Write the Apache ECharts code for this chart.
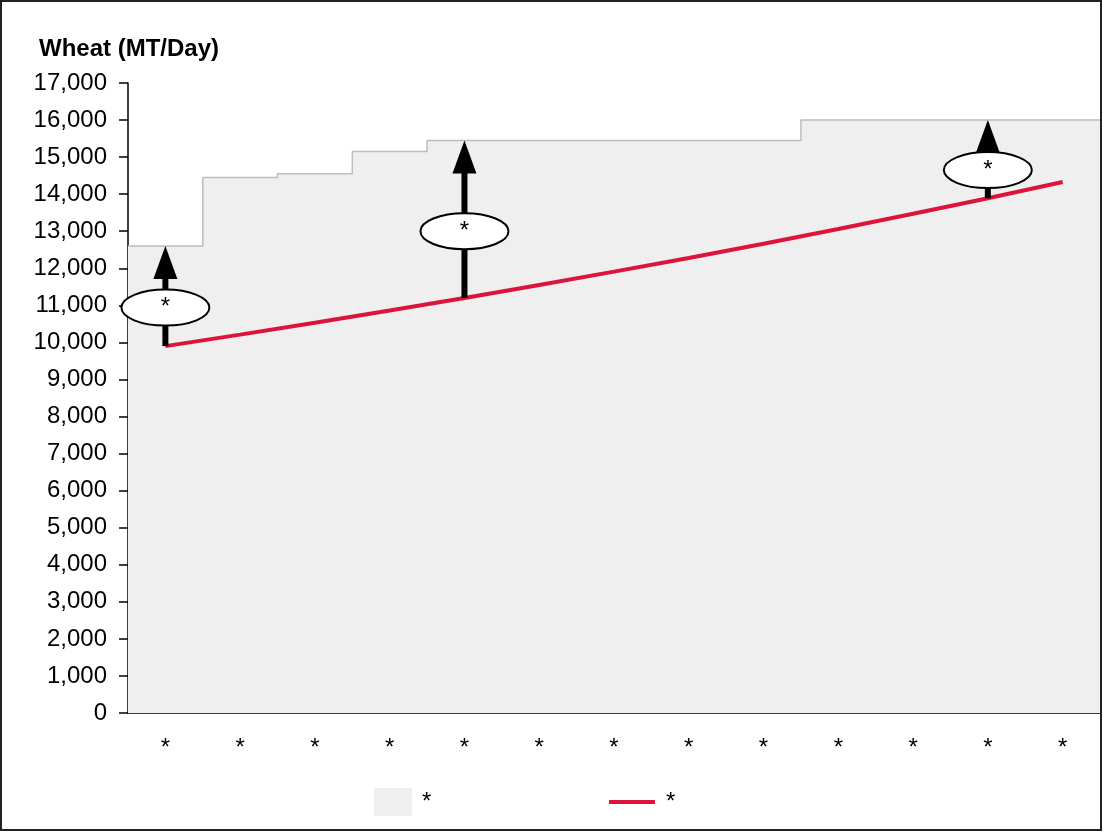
<!DOCTYPE html>
<html lang="en">
  <head>
    <meta charset="UTF-8" />
    <title>Wheat (MT/Day)</title>
    <script src="https://cdn.jsdelivr.net/npm/echarts@6/dist/echarts.min.js"></script>
    <style>
      html, body { margin: 0; padding: 0; background: #fff; }
      #main { width: 1103px; height: 832px; }
    </style>
  </head>
  <body>
    <div id="main"></div>
    <script>
      // 13 periods, labels are masked as '*'
      const categories = ['*', '*', '*', '*', '*', '*', '*', '*', '*', '*', '*', '*', '*']
      // capacity (grey step area), one value per period
      const capacity = [12600, 14450, 14550, 15150, 15450, 15450, 15450, 15450, 15450, 16000, 16000, 16000, 16000]
      // demand (red line)
      const demand = [9900, 10210, 10530, 10860, 11200, 11550, 11910, 12280, 12660, 13060, 13470, 13890, 14330]
      // arrows: period index and level of the oval label
      const arrowCats = [0, 4, 11]
      const arrowLabelLevels = [10940, 13000, 14650]
      const yTicks = [0, 17000, 1000]

      const FONT = '"Liberation Sans", Arial, sans-serif'

      // step area on a hidden value x axis, 0..13 = period boundaries
      const stepData = capacity.map((v, i) => [i, v])
      stepData.push([capacity.length, capacity[capacity.length - 1]])

      const arrowData = arrowCats.map((c, i) => [c, demand[c], capacity[c], arrowLabelLevels[i]])

      const myChart = echarts.init(document.getElementById('main'))
      const option = {
        animation: false,
        backgroundColor: '#fff',
        title: {
          text: 'Wheat (MT/Day)',
          left: 34,
          top: 32,
          textStyle: { fontFamily: FONT, fontSize: 24, fontWeight: 'bold', color: '#000' },
        },
        grid: { left: 128, right: 3, top: 83, bottom: 119 },
        xAxis: [
          {
            type: 'category',
            data: categories,
            axisLine: { lineStyle: { color: '#000', width: 1.5 } },
            axisTick: { length: 7, lineStyle: { color: '#000', width: 1.5 } },
            axisLabel: { margin: 23, color: '#000', fontFamily: FONT, fontSize: 24 },
          },
          { type: 'value', min: 0, max: categories.length, show: false },
        ],
        yAxis: {
          type: 'value',
          min: yTicks[0],
          max: yTicks[1],
          interval: yTicks[2],
          axisLine: { show: true, lineStyle: { color: '#000', width: 1.5 } },
          axisTick: { show: true, length: 9, lineStyle: { color: '#000', width: 1.5 } },
          axisLabel: {
            margin: 21,
            color: '#000',
            fontFamily: FONT,
            fontSize: 24,
            formatter: (v) => v.toLocaleString('en-US'),
          },
          splitLine: { show: false },
        },
        legend: [
          {
            data: ['Capacity'],
            left: 374,
            top: 788,
            padding: 0,
            icon: 'rect',
            itemWidth: 38,
            itemHeight: 28,
            itemStyle: { borderWidth: 0 },
            formatter: () => '*',
            textStyle: { fontFamily: FONT, fontSize: 24, color: '#000', padding: [0, 0, 0, 5] },
          },
          {
            data: ['Demand'],
            left: 609,
            top: 790,
            padding: 0,
            icon: 'rect',
            itemWidth: 46,
            itemHeight: 4,
            itemStyle: { borderWidth: 0 },
            formatter: () => '*',
            textStyle: { fontFamily: FONT, fontSize: 24, color: '#000', padding: [0, 0, 0, 6] },
          },
        ],
        graphic: [
          {
            type: 'rect',
            shape: { x: 1, y: 1, width: 1100, height: 829 },
            style: { fill: 'none', stroke: '#222', lineWidth: 2 },
            z: 100,
          },
        ],
        series: [
          {
            name: 'Capacity',
            type: 'line',
            xAxisIndex: 1,
            step: 'end',
            data: stepData,
            symbol: 'none',
            itemStyle: { color: '#efefef' },
            lineStyle: { color: '#bdbdbd', width: 1.5 },
            areaStyle: { color: '#efefef', opacity: 1 },
            z: 1,
          },
          {
            name: 'Demand',
            type: 'line',
            xAxisIndex: 0,
            data: demand,
            symbol: 'none',
            itemStyle: { color: '#dc143c' },
            lineStyle: { color: '#dc143c', width: 4 },
            z: 3,
          },
          {
            name: 'Arrows',
            type: 'custom',
            xAxisIndex: 0,
            data: arrowData,
            z: 5,
            renderItem: function (params, api) {
              const c = api.value(0)
              const bottom = api.coord([c, api.value(1)])
              const top = api.coord([c, api.value(2)])
              const mid = api.coord([c, api.value(3)])
              const x = top[0]
              return {
                type: 'group',
                children: [
                  {
                    type: 'line',
                    shape: { x1: x, y1: bottom[1], x2: x, y2: top[1] + 30 },
                    style: { stroke: '#000', lineWidth: 6 },
                  },
                  {
                    type: 'polygon',
                    shape: { points: [[x, top[1]], [x - 12, top[1] + 33], [x + 12, top[1] + 33]] },
                    style: { fill: '#000' },
                  },
                  {
                    type: 'ellipse',
                    shape: { cx: x, cy: mid[1], rx: 44, ry: 18 },
                    style: { fill: '#fff', stroke: '#000', lineWidth: 2 },
                  },
                  {
                    type: 'text',
                    style: {
                      text: '*',
                      x: x,
                      y: mid[1],
                      align: 'center',
                      verticalAlign: 'middle',
                      fontFamily: FONT,
                      fontSize: 24,
                      fill: '#000',
                    },
                  },
                ],
              }
            },
          },
        ],
      }
      myChart.setOption(option)
    </script>
  </body>
</html>
